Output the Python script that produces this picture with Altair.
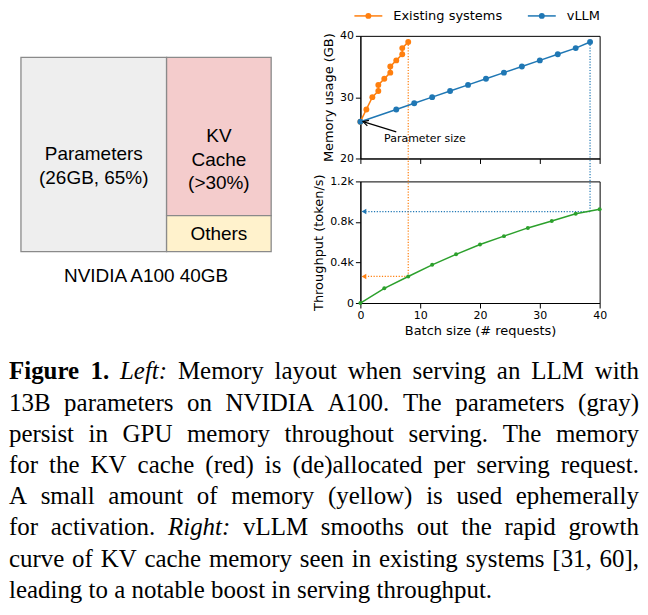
import altair as alt
import pandas as pd

# ---------------- data ----------------
# Left: GPU memory layout (unit box, y pointing up)
block_names = ["Parameters", "KV Cache", "Others"]
block_labels = ["Parameters\n(26GB, 65%)", "KV\nCache\n(>30%)", "Others"]
block_x0 = [0.0, 0.582, 0.582]
block_x1 = [0.582, 1.0, 1.0]
block_y0 = [0.0, 0.185, 0.0]
block_y1 = [1.0, 1.0, 0.185]
block_colors = ["#eeeeee", "#f4cccc", "#fff2cc"]
gpu_label = "NVIDIA A100 40GB"

# Right top: memory usage (GB) vs batch size
systems = ["Existing systems", "vLLM"]
system_colors = ["#ff7f0e", "#1f77b4"]
existing_batch = [0, 1, 2, 3, 3, 4, 5, 5, 6, 7, 7, 8]
existing_mem = [26, 28, 30, 31, 32, 33, 34, 35, 36, 37, 38, 39]
vllm_batch = [0, 6, 9, 12, 15, 18, 21, 24, 27, 30, 33, 36, 38.4]
vllm_mem = [26, 28, 29, 30, 31, 32, 33, 34, 35, 36, 37, 38, 39]

# Right bottom: throughput (token/s) vs batch size
thr_batch = [0, 4, 8, 12, 16, 20, 24, 28, 32, 36, 40]
thr_tokens = [0, 145, 262, 377, 480, 577, 660, 741, 810, 880, 925]

# Max batch reachable by each system and the resulting throughput
max_batch = [8, 38.4]
max_mem = [39, 39]
max_thr = [262, 902]

# Annotation
param_text = "Parameter size"
param_size = 26

# Caption (**bold**, _italic_)
caption_lines = [
    "**Figure** **1.** _Left:_ Memory layout when serving an LLM with",
    "13B parameters on NVIDIA A100. The parameters (gray)",
    "persist in GPU memory throughout serving. The memory",
    "for the KV cache (red) is (de)allocated per serving request.",
    "A small amount of memory (yellow) is used ephemerally",
    "for activation. _Right:_ vLLM smooths out the rapid growth",
    "curve of KV cache memory seen in existing systems [31, 60],",
    "leading to a notable boost in serving throughput.",
]

# ---------------- style ----------------
SANS = "DejaVu Sans"
SERIF = "Liberation Serif"
DOT = [1.2, 1.6]

# ---------------- left diagram ----------------
blocks_df = pd.DataFrame({
    "block": block_names, "label": block_labels,
    "x0": block_x0, "x1": block_x1, "y0": block_y0, "y1": block_y1,
})
LW, LH = 275, 216.5
lx = alt.Scale(domain=[-12 / 251, (LW - 12) / 251], nice=False, zero=False)
ly = alt.Scale(domain=[0, LH / 195], nice=False, zero=False)

rects = alt.Chart(blocks_df).mark_rect(stroke="#8a8a8a", strokeWidth=1.3).encode(
    x=alt.X("x0:Q", scale=lx, axis=None),
    x2="x1:Q",
    y=alt.Y("y0:Q", scale=ly, axis=None),
    y2="y1:Q",
    color=alt.Color("block:N", scale=alt.Scale(domain=block_names, range=block_colors), legend=None),
)
rect_text = alt.Chart(blocks_df).transform_calculate(
    xc="(datum.x0 + datum.x1) / 2", yc="(datum.y0 + datum.y1) / 2"
).mark_text(font="Liberation Sans", fontSize=19, lineBreak="\n", lineHeight=23.5,
            color="black", baseline="middle", align="center").encode(
    x=alt.X("xc:Q", scale=lx, axis=None),
    y=alt.Y("yc:Q", scale=ly, axis=None),
    text="label:N",
)
left = alt.layer(rects, rect_text).properties(
    width=LW, height=LH,
    view=alt.ViewBackground(stroke="transparent"),
    title=alt.TitleParams(gpu_label, orient="bottom", anchor="middle", font="Liberation Sans",
                          fontSize=19, fontWeight="normal", color="black", offset=15),
)

# ---------------- memory chart ----------------
mem_df = pd.DataFrame({
    "system": [systems[0]] * len(existing_batch) + [systems[1]] * len(vllm_batch),
    "batch": existing_batch + vllm_batch,
    "mem": existing_mem + vllm_mem,
    "order": list(range(len(existing_batch))) + list(range(len(vllm_batch))),
})
max_df = pd.DataFrame({"system": systems, "batch": max_batch, "mem": max_mem, "thr": max_thr})

xs = alt.Scale(domain=[0, 40], nice=False, zero=False)
mem_ys = alt.Scale(domain=[20, 40], nice=False, zero=False)
thr_ys = alt.Scale(domain=[0, 1200], nice=False, zero=False)
sys_scale = alt.Scale(domain=systems, range=system_colors)

mem_x_axis = alt.Axis(values=[0, 10, 20, 30, 40], labels=False, title=None, ticks=True)
mem_y_axis = alt.Axis(values=[20, 30, 40], title="Memory usage (GB)")

mem_base = alt.Chart(mem_df).encode(
    x=alt.X("batch:Q", scale=xs, axis=mem_x_axis),
    y=alt.Y("mem:Q", scale=mem_ys, axis=mem_y_axis),
    order=alt.Order("order:Q"),
)
mem_lines = mem_base.mark_line(strokeWidth=1.5).encode(
    stroke=alt.Stroke("system:N", scale=sys_scale, legend=None))
mem_pts = mem_base.mark_circle(size=35, opacity=1).encode(
    fill=alt.Fill("system:N", scale=sys_scale, legend=None))

mem_vert = alt.Chart(max_df).mark_rule(strokeDash=DOT, strokeWidth=1.2).encode(
    x=alt.X("batch:Q", scale=xs),
    y=alt.Y("mem:Q", scale=mem_ys),
    y2=alt.datum(20),
    stroke=alt.Stroke("system:N", scale=sys_scale, legend=None),
)

# legend (above the plot, placed in the chart's own data space)
leg_df = pd.DataFrame({"system": systems, "lx": [8 / 6, 182 / 6], "ly": [40 + 20 / 6.15] * 2})
leg_base = alt.Chart(leg_df).encode(x=alt.X("lx:Q", scale=xs), y=alt.Y("ly:Q", scale=mem_ys))
leg_sym = leg_base.mark_point(shape="M-1,0L1,0", size=784, strokeWidth=1.5, filled=False,
                              opacity=1).encode(
    stroke=alt.Stroke("system:N", scale=sys_scale, legend=None))
leg_dot = leg_base.mark_circle(size=35, opacity=1).encode(
    fill=alt.Fill("system:N", scale=sys_scale, legend=None))
leg_txt = leg_base.mark_text(align="left", baseline="middle", dx=25, font=SANS, fontSize=13,
                             color="black").encode(text="system:N")

annot_df = pd.DataFrame({"label": [param_text], "tx": [10.8], "ty": [23.2],
                         "ax": [6.0], "ay": [24.35], "hx": [0.45], "hy": [param_size]})
annot_text = alt.Chart(annot_df).mark_text(font=SANS, fontSize=11, color="black").encode(
    x=alt.X("tx:Q", scale=xs), y=alt.Y("ty:Q", scale=mem_ys), text="label:N")
annot_line = alt.Chart(annot_df).mark_rule(color="black", strokeWidth=1.2).encode(
    x=alt.X("ax:Q", scale=xs), x2="hx:Q", y=alt.Y("ay:Q", scale=mem_ys), y2="hy:Q")
annot_head = alt.Chart(annot_df).mark_point(
    shape="M-0.55,1L0,0L0.55,1", angle=286, size=112, filled=False,
    color="black", strokeWidth=1.2, opacity=1).encode(
    x=alt.X("hx:Q", scale=xs), y=alt.Y("hy:Q", scale=mem_ys))

mem = alt.layer(mem_vert, mem_lines, mem_pts, annot_line, annot_head, annot_text,
                leg_sym, leg_dot, leg_txt).properties(width=240, height=123)

# ---------------- throughput chart ----------------
thr_df = pd.DataFrame({"batch": thr_batch, "thr": thr_tokens})
thr_x_axis = alt.Axis(values=[0, 10, 20, 30, 40], title="Batch size (# requests)")
thr_y_axis = alt.Axis(values=[0, 400, 800, 1200], title="Throughput (token/s)",
                      labelExpr="datum.value == 0 ? '0' : format(datum.value / 1000, '.1f') + 'k'")

thr_base = alt.Chart(thr_df).encode(
    x=alt.X("batch:Q", scale=xs, axis=thr_x_axis),
    y=alt.Y("thr:Q", scale=thr_ys, axis=thr_y_axis),
)
thr_line = thr_base.mark_line(color="#2ca02c", strokeWidth=1.5)
thr_pts = thr_base.mark_circle(color="#2ca02c", size=16, opacity=1)

thr_vert = alt.Chart(max_df).mark_rule(strokeDash=DOT, strokeWidth=1.2).encode(
    x=alt.X("batch:Q", scale=xs),
    y=alt.Y("thr:Q", scale=thr_ys),
    y2=alt.datum(1426),
    stroke=alt.Stroke("system:N", scale=sys_scale, legend=None),
)
thr_horiz = alt.Chart(max_df).mark_rule(strokeDash=DOT, strokeWidth=1.2).encode(
    x=alt.X("batch:Q", scale=xs),
    x2=alt.datum(1.0),
    y=alt.Y("thr:Q", scale=thr_ys),
    stroke=alt.Stroke("system:N", scale=sys_scale, legend=None),
)
thr_heads = alt.Chart(max_df).mark_point(shape="triangle-left", filled=True, size=30, opacity=1).encode(
    x=alt.datum(0.6),
    y=alt.Y("thr:Q", scale=thr_ys),
    fill=alt.Fill("system:N", scale=sys_scale, legend=None),
)

thr = alt.layer(thr_vert, thr_horiz, thr_heads, thr_line, thr_pts).properties(width=240, height=122)

# ---------------- caption (justified word layout) ----------------
FS = 25
CAP_W = 632
TIMES = {' ': 250, '(': 333, ')': 333, ',': 250, '.': 250, ':': 278, '[': 333, ']': 333,
         '%': 833, '>': 564,
         'A': 722, 'B': 667, 'C': 667, 'D': 722, 'E': 611, 'F': 556, 'G': 722, 'H': 722,
         'I': 333, 'J': 389, 'K': 722, 'L': 611, 'M': 889, 'N': 722, 'O': 722, 'P': 556,
         'Q': 722, 'R': 667, 'S': 556, 'T': 611, 'U': 722, 'V': 722, 'W': 944, 'X': 722,
         'Y': 722, 'Z': 611,
         'a': 444, 'b': 500, 'c': 444, 'd': 500, 'e': 444, 'f': 333, 'g': 500, 'h': 500,
         'i': 278, 'j': 278, 'k': 500, 'l': 278, 'm': 778, 'n': 500, 'o': 500, 'p': 500,
         'q': 500, 'r': 333, 's': 389, 't': 278, 'u': 500, 'v': 500, 'w': 722, 'x': 500,
         'y': 500, 'z': 444}
BOLD = {'F': 611, 'i': 278, 'g': 500, 'u': 556, 'r': 444, 'e': 444, '1': 500, '.': 250}
ITAL = {'L': 556, 'e': 444, 'f': 278, 't': 278, ':': 333, 'R': 611, 'i': 278, 'g': 500, 'h': 500}


def word_width(w, style):
    table = BOLD if style == "bold" else ITAL if style == "italic" else TIMES
    return sum(table.get(c, TIMES.get(c, 500)) for c in w) * FS / 1000


rows = []
for li, line in enumerate(caption_lines):
    words = []
    for tok in line.split(" "):
        if tok.startswith("**"):
            words.append((tok.strip("*"), "bold"))
        elif tok.startswith("_"):
            words.append((tok.strip("_"), "italic"))
        else:
            words.append((tok, "normal"))
    widths = [word_width(w, s) for w, s in words]
    last = li == len(caption_lines) - 1
    gap = 0.25 * FS if last else (CAP_W - sum(widths)) / (len(words) - 1)
    x = 0.0
    for (w, s), wd in zip(words, widths):
        rows.append((li, w, s, x))
        x += wd + gap
cap_df = pd.DataFrame(rows, columns=["line", "text", "style", "wx"])

cap_y = alt.Scale(domain=[-0.93, 7.25], reverse=True, nice=False, zero=False)
cap_base = alt.Chart(cap_df).encode(
    x=alt.X("wx:Q", scale=None, axis=None),
    y=alt.Y("line:Q", scale=cap_y, axis=None),
    text="text:N",
)
cap_kw = dict(font=SERIF, fontSize=FS, color="black", align="left", baseline="alphabetic")
cap_bold = cap_base.transform_filter("datum.style == 'bold'").mark_text(fontWeight="bold", **cap_kw)
cap_ital = cap_base.transform_filter("datum.style == 'italic'").mark_text(fontStyle="italic", **cap_kw)
cap_norm = cap_base.transform_filter("datum.style == 'normal'").mark_text(**cap_kw)
caption = alt.layer(cap_bold, cap_ital, cap_norm).properties(
    width=CAP_W, height=256, view=alt.ViewBackground(stroke="transparent"))

# ---------------- compose ----------------
right = alt.vconcat(mem, thr, spacing=23, bounds="flush").resolve_scale(
    color="independent", fill="independent", stroke="independent")
top = alt.hconcat(left, right, spacing=27.5).resolve_scale(
    color="independent", fill="independent", stroke="independent")
chart = alt.vconcat(top, caption, spacing=10.5).resolve_scale(
    color="independent", fill="independent", stroke="independent"
).properties(
    padding=0, background="white"
).configure_view(
    stroke="black", strokeWidth=1
).configure_axis(
    labelFont=SANS, labelFontSize=11, labelColor="black",
    titleFont=SANS, titleFontSize=13, titleFontWeight="normal", titleColor="black",
    tickColor="black", domainColor="black", tickSize=5, tickWidth=1, domainWidth=1,
    labelPadding=2, titlePadding=4, grid=False, labelFlush=False, labelOverlap=False,
)

chart.save("out.html", embed_options={"renderer": "svg", "actions": False})
